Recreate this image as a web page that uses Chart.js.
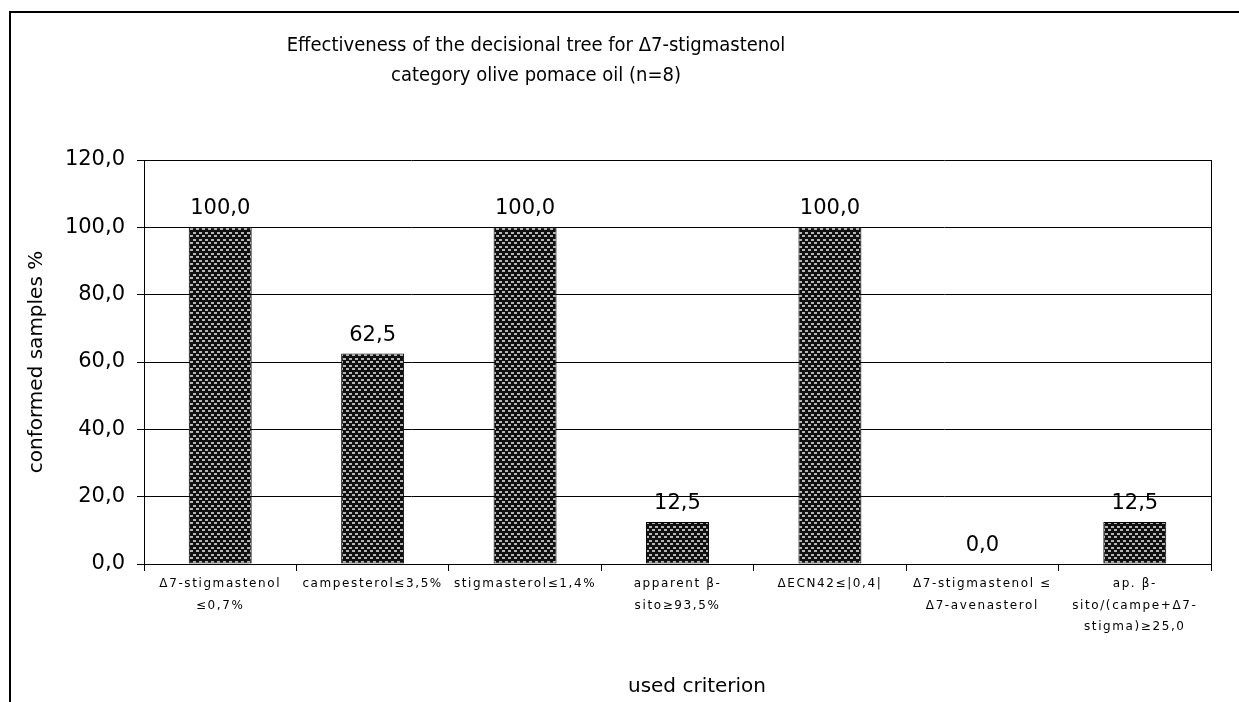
<!DOCTYPE html>
<html>
<head>
<meta charset="utf-8">
<script src="https://cdn.jsdelivr.net/npm/chart.js@4/dist/chart.umd.min.js"></script>
<style>
  body { margin: 0; background: #fff; }
  #wrap { width: 1239px; height: 702px; position: relative; }
</style>
</head>
<body>
<div id="wrap"><canvas id="chart-bar"></canvas></div>
<script>
// data
var criteria = [
    ["Δ7-stigmastenol", "≤0,7%"],
    "campesterol≤3,5%",
    "stigmasterol≤1,4%",
    ["apparent β-", "sito≥93,5%"],
    "ΔECN42≤|0,4|",
    ["Δ7-stigmastenol ≤", "Δ7-avenasterol"],
    ["ap. β-", "sito/(campe+Δ7-", "stigma)≥25,0"]
];
var conformed = [100, 62.5, 100, 12.5, 100, 0, 12.5];
var yMin = 0, yMax = 120, yStep = 20;

var titleLines = ["Effectiveness of the decisional tree for Δ7-stigmastenol", "category olive pomace oil (n=8)"];
var yTitle = "conformed samples %";
var xTitle = "used criterion";

function fmt(v) {
    return Number(v).toFixed(1).replace('.', ',');
}

// dark checkered fill like the old office pattern
function makePattern() {
    var c = document.createElement('canvas');
    c.width = 6; c.height = 7;
    var p = c.getContext('2d');
    p.fillStyle = '#101010';
    p.fillRect(0, 0, 6, 7);
    p.fillStyle = '#b5b5b5';
    p.fillRect(1, 1, 3, 2);
    p.fillRect(4, 4, 2, 2);
    p.fillRect(0, 4, 1, 2);
    return p.createPattern(c, 'repeat');
}

var framePlugin = {
    id: 'frame',
    beforeDraw: function(chart) {
        var ctx = chart.ctx;
        ctx.save();
        ctx.strokeStyle = '#000';
        ctx.lineWidth = 2;
        ctx.beginPath();
        ctx.moveTo(10, 702);
        ctx.lineTo(10, 12);
        ctx.lineTo(1239, 12);
        ctx.stroke();

        // chart title and x axis title sit off-centre in the original
        ctx.fillStyle = '#000';
        ctx.textAlign = 'center';
        ctx.textBaseline = 'middle';
        ctx.font = '20px "DejaVu Sans Condensed", "DejaVu Sans"';
        ctx.fillText(titleLines[0], 536, 46);
        ctx.fillText(titleLines[1], 536, 76);
        ctx.font = '20px "DejaVu Sans"';
        ctx.fillText(xTitle, 697, 687);
        ctx.restore();
    },
    afterLayout: function(chart) {
        var s = chart.scales.x;
        if (s && !s._spaced) {
            var orig = s.drawLabels;
            s.drawLabels = function(area) {
                var prev = this.ctx.letterSpacing;
                this.ctx.letterSpacing = '1.6px';
                orig.call(this, area);
                this.ctx.letterSpacing = prev;
            };
            s._spaced = true;
        }
    },
    afterDatasetsDraw: function(chart) {
        var ctx = chart.ctx;
        var a = chart.chartArea;
        ctx.save();
        ctx.strokeStyle = '#000';
        ctx.lineWidth = 1;
        ctx.beginPath();
        ctx.moveTo(Math.round(a.right) + 0.5, a.top);
        ctx.lineTo(Math.round(a.right) + 0.5, a.bottom);
        ctx.stroke();

        // value labels above bars
        ctx.fillStyle = '#000';
        ctx.font = '21px "DejaVu Sans"';
        ctx.textAlign = 'center';
        ctx.textBaseline = 'alphabetic';
        chart.getDatasetMeta(0).data.forEach(function(bar, i) {
            ctx.fillText(fmt(conformed[i]), bar.x, bar.y - 13);
        });
        ctx.restore();
    }
};

var ctx = document.getElementById('chart-bar');
var myBarChart = new Chart(ctx, {
    type: 'bar',
    data: {
        labels: criteria,
        datasets: [{
            data: conformed,
            backgroundColor: makePattern(),
            borderColor: '#000',
            borderWidth: 1,
            borderSkipped: false,
            barPercentage: 0.413,
            categoryPercentage: 1.0
        }]
    },
    options: {
        responsive: true,
        maintainAspectRatio: false,
        animation: false,
        layout: { padding: { left: 0, right: 28, top: 160, bottom: 0 } },
        plugins: {
            legend: { display: false },
            tooltip: { enabled: false },
            title: { display: false }
        },
        scales: {
            x: {
                afterFit: function(scale) { scale.height = 138; },
                grid: {
                    display: true,
                    drawOnChartArea: false,
                    color: '#000',
                    tickLength: 7,
                    offset: true
                },
                border: { color: '#000', width: 1 },
                ticks: {
                    color: '#000',
                    autoSkip: false,
                    maxRotation: 0,
                    minRotation: 0,
                    padding: 2,
                    font: { family: '"DejaVu Sans"', size: 12, lineHeight: 1.8 }
                }
            },
            y: {
                min: yMin,
                max: yMax,
                afterFit: function(scale) { scale.width = 144; },
                grid: {
                    color: '#000',
                    lineWidth: 1,
                    tickLength: 7
                },
                border: { color: '#000', width: 1 },
                ticks: {
                    stepSize: yStep,
                    color: '#000',
                    padding: 12,
                    font: { family: '"DejaVu Sans"', size: 21 },
                    callback: function(value) { return fmt(value); }
                },
                title: {
                    display: true,
                    text: yTitle,
                    color: '#000',
                    font: { family: '"DejaVu Sans"', size: 20, lineHeight: 1.2 },
                    padding: { top: 25, bottom: 0 }
                }
            }
        }
    },
    plugins: [framePlugin]
});
</script>
</body>
</html>
